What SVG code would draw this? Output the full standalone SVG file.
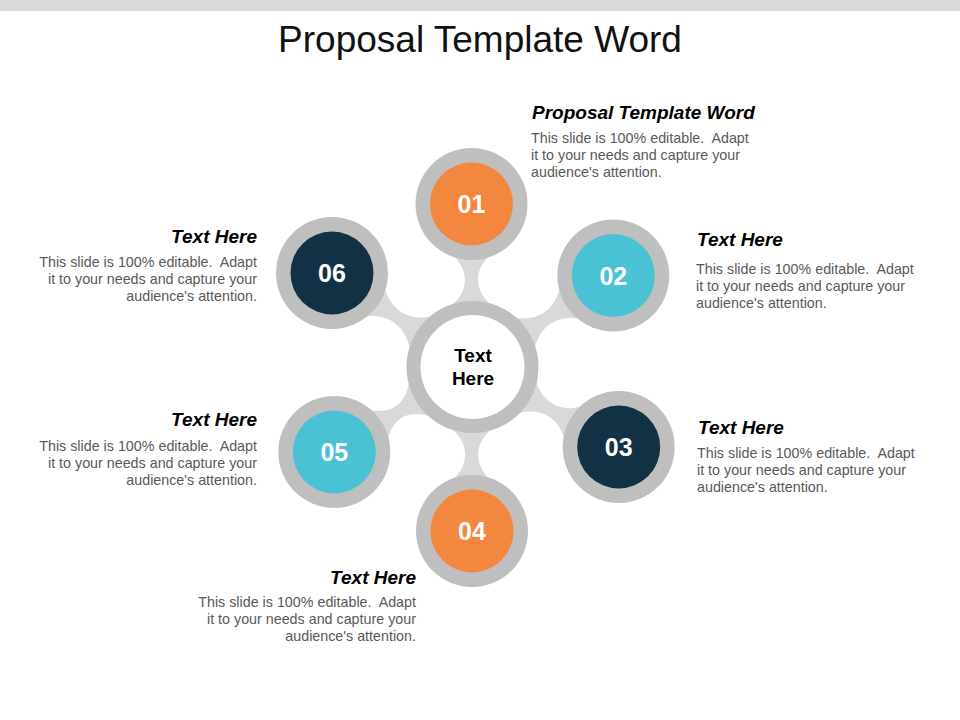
<svg xmlns="http://www.w3.org/2000/svg" width="960" height="720" viewBox="0 0 960 720">
<style>
.title{font-family:"Liberation Sans",Arial,sans-serif;font-size:37px;fill:#111}
.hd{font-family:"Liberation Sans",Arial,sans-serif;font-size:19px;font-weight:bold;font-style:italic;fill:#000}
.bd{font-family:"Liberation Sans",Arial,sans-serif;font-size:14.3px;fill:#595959;white-space:pre}
.num{font-family:"Liberation Sans",Arial,sans-serif;font-size:25px;font-weight:bold;fill:#fff;text-anchor:middle}
.ctr{font-family:"Liberation Sans",Arial,sans-serif;font-size:19px;font-weight:bold;fill:#000;text-anchor:middle}
.ring{fill:#bfbfbf}
.conn{fill:#d9d9d9}
.end{text-anchor:end}
</style>
<rect x="0" y="0" width="960" height="11" fill="#d9d9d9"/>
<text class="title" x="480" y="52" text-anchor="middle">Proposal Template Word</text>

<g id="connectors">
  <path class="conn" transform="translate(472,367) rotate(-90.35)" d="M58,-24 C76,-1 97,-1 115,-22 L115,22 C97,1 76,1 58,24 Z"/>
  <path class="conn" transform="translate(472,367) rotate(-33)" d="M58,-24 C76,-1 102,-1 120,-22 L120,22 C102,1 76,1 58,24 Z"/>
  <path class="conn" transform="translate(472,367) rotate(28.7)" d="M58,-24 C76,-1 101,-1 119,-22 L119,22 C101,1 76,1 58,24 Z"/>
  <path class="conn" transform="translate(472,367) rotate(90.2)" d="M58,-24 C76,-1 98,-1 116,-22 L116,22 C98,1 76,1 58,24 Z"/>
  <path class="conn" transform="translate(472,367) rotate(148.4)" d="M58,-24 C76,-1 96,-1 114,-22 L114,22 C96,1 76,1 58,24 Z"/>
  <path class="conn" transform="translate(472,367) rotate(-146.2)" d="M58,-24 C76,-1 103,-1 121,-22 L121,22 C103,1 76,1 58,24 Z"/>
</g>

<g id="center">
  <circle class="ring" cx="472.5" cy="367" r="66"/>
  <circle cx="472.5" cy="367" r="52" fill="#fff"/>
  <text class="ctr" x="473" y="362">Text</text>
  <text class="ctr" x="473" y="385">Here</text>
</g>

<g id="node01">
  <circle class="ring" cx="471.5" cy="204" r="56"/>
  <circle cx="471.5" cy="204" r="41.5" fill="#f4873f"/>
  <text class="num" x="471.5" y="213">01</text>
</g>
<g id="node02">
  <circle class="ring" cx="613.3" cy="275.5" r="56"/>
  <circle cx="613.3" cy="275.5" r="41.5" fill="#4bc2d3"/>
  <text class="num" x="613.3" y="284.5">02</text>
</g>
<g id="node03">
  <circle class="ring" cx="618.7" cy="447" r="56"/>
  <circle cx="618.7" cy="447" r="41.5" fill="#133144"/>
  <text class="num" x="618.7" y="456">03</text>
</g>
<g id="node04">
  <circle class="ring" cx="472" cy="531" r="56"/>
  <circle cx="472" cy="531" r="41.5" fill="#f4873f"/>
  <text class="num" x="472" y="540">04</text>
</g>
<g id="node05">
  <circle class="ring" cx="334.3" cy="452" r="56"/>
  <circle cx="334.3" cy="452" r="41.5" fill="#4bc2d3"/>
  <text class="num" x="334.3" y="461">05</text>
</g>
<g id="node06">
  <circle class="ring" cx="332" cy="273" r="56"/>
  <circle cx="332" cy="273" r="41.5" fill="#133144"/>
  <text class="num" x="332" y="282">06</text>
</g>

<g id="text01">
  <text class="hd" x="532" y="119">Proposal Template Word</text>
  <text class="bd" x="531" y="143">This slide is 100% editable.  Adapt</text>
  <text class="bd" x="531" y="160">it to your needs and capture your</text>
  <text class="bd" x="531" y="177">audience's attention.</text>
</g>
<g id="text02">
  <text class="hd" x="697" y="246">Text Here</text>
  <text class="bd" x="696" y="274">This slide is 100% editable.  Adapt</text>
  <text class="bd" x="696" y="291">it to your needs and capture your</text>
  <text class="bd" x="696" y="308">audience's attention.</text>
</g>
<g id="text03">
  <text class="hd" x="698" y="434">Text Here</text>
  <text class="bd" x="697" y="458">This slide is 100% editable.  Adapt</text>
  <text class="bd" x="697" y="475">it to your needs and capture your</text>
  <text class="bd" x="697" y="492">audience's attention.</text>
</g>
<g id="text04">
  <text class="hd end" x="416" y="584">Text Here</text>
  <text class="bd end" x="416" y="607">This slide is 100% editable.  Adapt</text>
  <text class="bd end" x="416" y="624">it to your needs and capture your</text>
  <text class="bd end" x="416" y="641">audience's attention.</text>
</g>
<g id="text05">
  <text class="hd end" x="257" y="426">Text Here</text>
  <text class="bd end" x="257" y="451">This slide is 100% editable.  Adapt</text>
  <text class="bd end" x="257" y="468">it to your needs and capture your</text>
  <text class="bd end" x="257" y="485">audience's attention.</text>
</g>
<g id="text06">
  <text class="hd end" x="257" y="243">Text Here</text>
  <text class="bd end" x="257" y="267">This slide is 100% editable.  Adapt</text>
  <text class="bd end" x="257" y="284">it to your needs and capture your</text>
  <text class="bd end" x="257" y="301">audience's attention.</text>
</g>
</svg>
